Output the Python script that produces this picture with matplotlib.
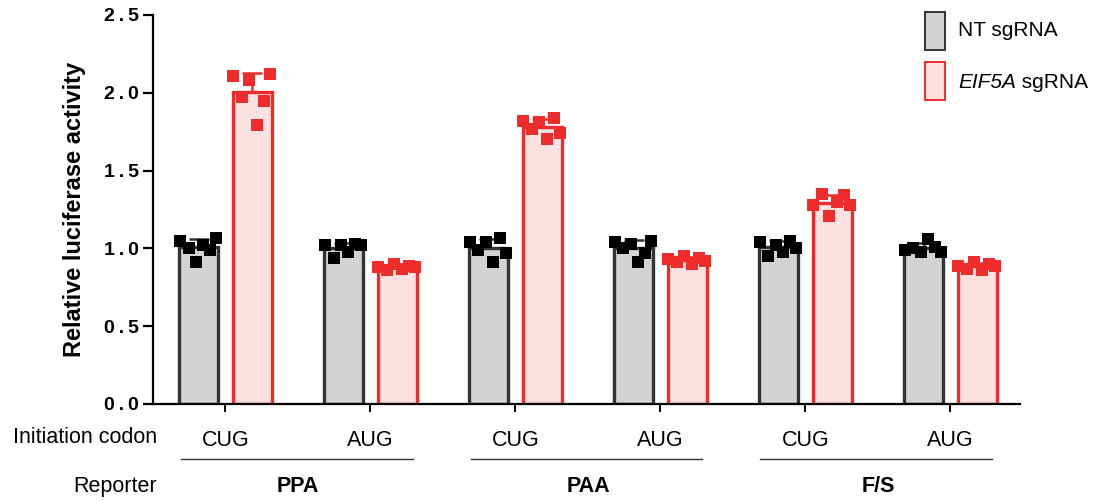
import numpy as np
import matplotlib
matplotlib.use("Agg")
import matplotlib.pyplot as plt
from matplotlib.patches import Rectangle
from matplotlib.ticker import FixedLocator, FuncFormatter

plt.rcParams['font.family'] = ['Liberation Sans', 'DejaVu Sans']

# ---- data ----
reporters = ["PPA", "PAA", "F/S"]
codons = ["CUG", "AUG", "CUG", "AUG", "CUG", "AUG"]
conditions = ["NT sgRNA", "EIF5A sgRNA"]

nt_points = [
    [1.05, 1.00, 0.91, 1.02, 0.99, 1.07],
    [1.02, 0.94, 1.02, 0.98, 1.03, 1.02],
    [1.04, 0.99, 1.04, 0.91, 1.07, 0.97],
    [1.04, 1.00, 1.03, 0.91, 0.97, 1.05],
    [1.04, 0.95, 1.02, 0.98, 1.05, 1.00],
    [0.99, 1.00, 0.98, 1.06, 1.01, 0.98],
]
eif5a_points = [
    [2.11, 1.97, 2.08, 1.79, 1.95, 2.12],
    [0.88, 0.86, 0.90, 0.87, 0.89, 0.88],
    [1.82, 1.77, 1.81, 1.70, 1.84, 1.74],
    [0.93, 0.91, 0.95, 0.90, 0.94, 0.92],
    [1.28, 1.35, 1.21, 1.30, 1.34, 1.28],
    [0.89, 0.87, 0.91, 0.86, 0.90, 0.89],
]

# ---- style ----
GRAY_FILL = "#D3D3D3"
GRAY_EDGE = "#333333"
RED_FILL = "#FDE0E0"
RED_EDGE = "#EE2C2C"
BAR_W = 0.27
OFFSET = 0.185
JITTER = np.array([-0.13, -0.07, -0.02, 0.03, 0.08, 0.12])

fig = plt.figure(figsize=(10.96, 5.01), dpi=100)
ax = fig.add_axes([153 / 1096, 1 - 404 / 501, (1020 - 153) / 1096, 389 / 501])

x = np.arange(len(codons))
series = [
    (nt_points, -OFFSET, GRAY_FILL, GRAY_EDGE, "black"),
    (eif5a_points, OFFSET, RED_FILL, RED_EDGE, RED_EDGE),
]
for pts, off, fill, edge, mcol in series:
    arr = np.array(pts)
    means = arr.mean(axis=1)
    sds = arr.std(axis=1, ddof=1)
    xs = x + off
    ax.bar(xs, means, width=BAR_W, color=fill, edgecolor=edge, linewidth=2.4, zorder=2)
    ax.errorbar(xs, means, yerr=[np.zeros_like(sds), sds], fmt="none",
                ecolor=edge, elinewidth=1.8, capsize=7, capthick=1.8, zorder=3)
    for xi, row in zip(xs, arr):
        ax.plot(xi + JITTER, row, linestyle="none", marker="s", markersize=8.2,
                color=mcol, markeredgewidth=0, zorder=4)

ax.set_xlim(-0.5, 5.48)
ax.set_ylim(0, 2.5)

for s in ("top", "right"):
    ax.spines[s].set_visible(False)
for s in ("left", "bottom"):
    ax.spines[s].set_linewidth(1.6)
    ax.spines[s].set_color("black")

ax.yaxis.set_major_locator(FixedLocator([0, 0.5, 1.0, 1.5, 2.0, 2.5]))
ax.yaxis.set_major_formatter(
    FuncFormatter(lambda v, p: "\u2009.\u2009".join(f"{v:.1f}".split("."))))
ax.tick_params(axis="y", length=7, width=1.6, labelsize=14, pad=3)
for lab in ax.get_yticklabels():
    lab.set_fontweight("bold")

ax.set_xticks(x)
ax.set_xticklabels(codons)
ax.tick_params(axis="x", length=6, width=1.4, labelsize=15.5, pad=13)

ax.set_ylabel("Relative luciferase activity", fontsize=17, fontweight="bold", labelpad=13)

trans = ax.get_xaxis_transform()
ax.text(-0.47, -0.085, "Initiation codon", transform=trans, ha="right", va="center",
        fontsize=15.5, clip_on=False)
ax.text(-0.47, -0.211, "Reporter", transform=trans, ha="right", va="center",
        fontsize=15.5, clip_on=False)
for i, name in enumerate(reporters):
    left, right = x[2 * i], x[2 * i + 1]
    ax.plot([left - 0.31, right + 0.29], [-0.141, -0.141], transform=trans,
            color="#333333", linewidth=1.0, clip_on=False)
    ax.text((left + right) / 2, -0.211, name, transform=trans, ha="center", va="center",
            fontsize=15.5, fontweight="bold", clip_on=False)

# legend drawn as figure patches
fig.patches.append(Rectangle((925 / 1096, 1 - 50 / 501), 20 / 1096, 38 / 501,
                             transform=fig.transFigure, facecolor=GRAY_FILL,
                             edgecolor=GRAY_EDGE, linewidth=1.4))
fig.patches.append(Rectangle((925 / 1096, 1 - 100 / 501), 20 / 1096, 38 / 501,
                             transform=fig.transFigure, facecolor=RED_FILL,
                             edgecolor=RED_EDGE, linewidth=1.4))
fig.text(958 / 1096, 1 - 31 / 501, conditions[0], fontsize=15, va="center", ha="left")
gene, rest = conditions[1].split(" ", 1)
t1 = fig.text(958 / 1096, 1 - 82 / 501, gene, fontsize=15, va="center", ha="left",
              style="italic")
fig.canvas.draw()
bb = t1.get_window_extent(renderer=fig.canvas.get_renderer())
fig.text(bb.x1 / fig.bbox.width, 1 - 82 / 501, " " + rest, fontsize=15, va="center", ha="left")

fig.savefig("out.png", dpi=100)
